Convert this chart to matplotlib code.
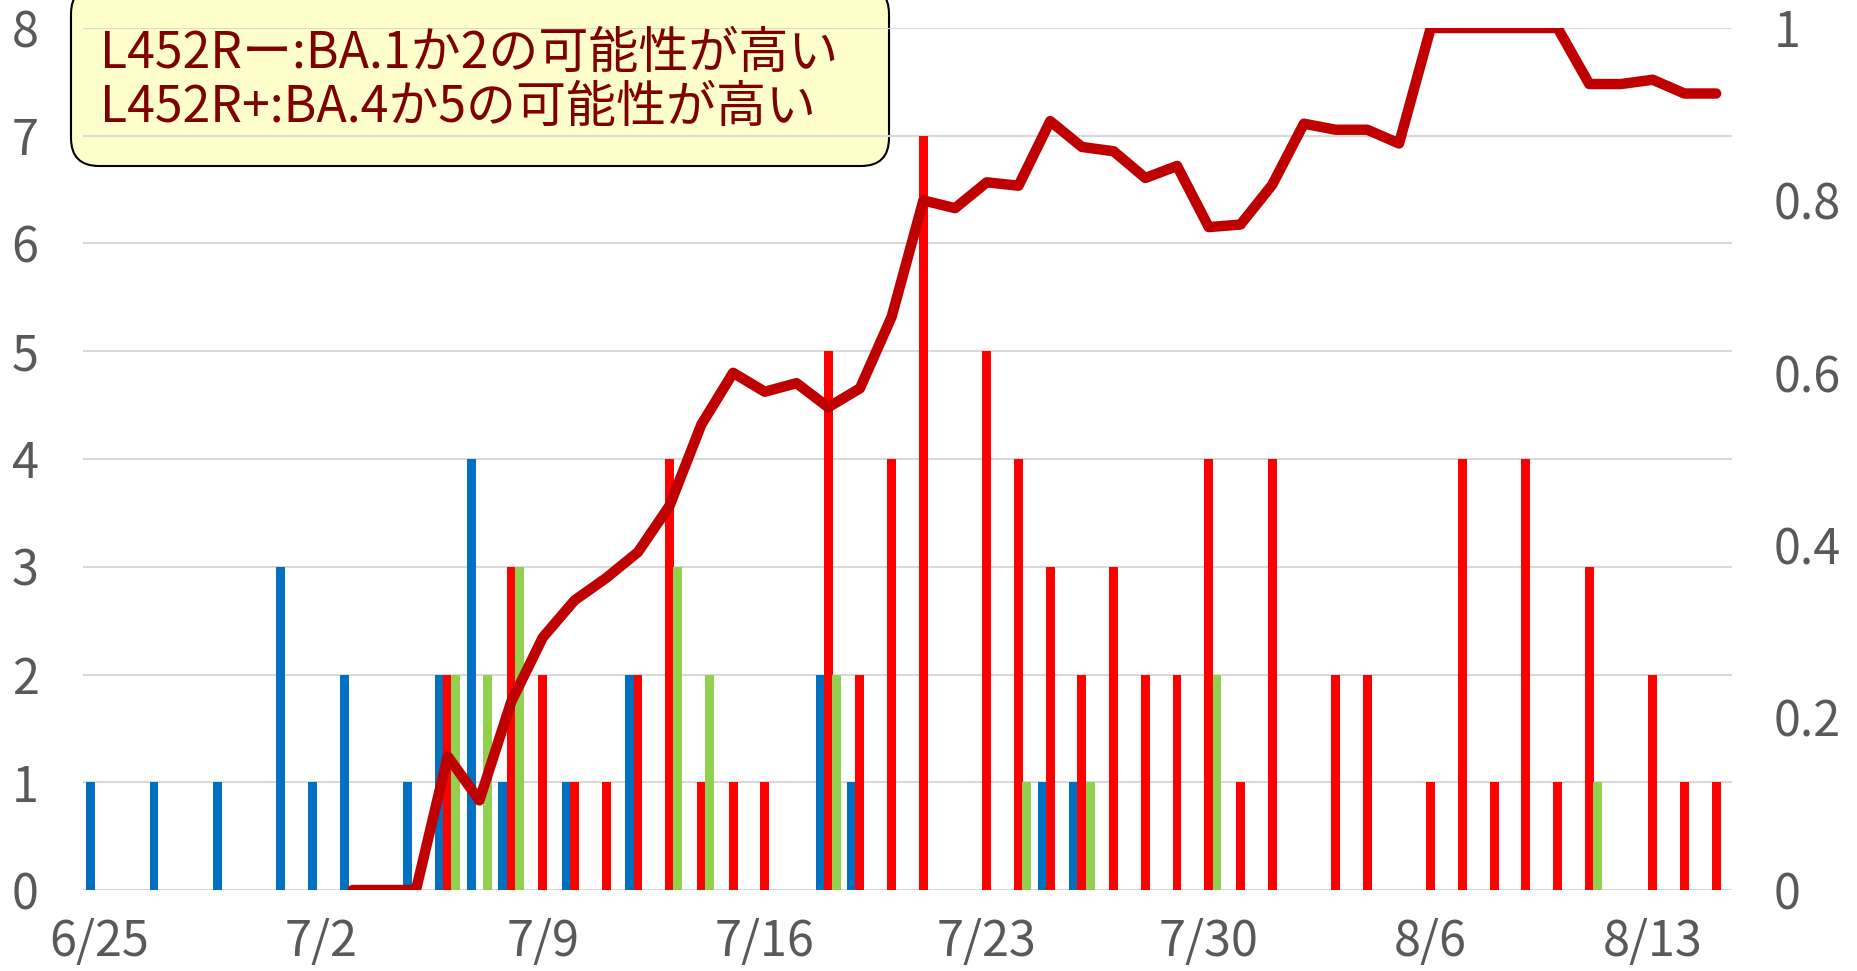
import numpy as np
import pandas as pd
import matplotlib
matplotlib.use("Agg")
import matplotlib.pyplot as plt
from matplotlib.patches import FancyBboxPatch
from matplotlib.transforms import IdentityTransform

plt.rcParams['font.family'] = ['Noto Sans CJK JP', 'DejaVu Sans']

# daily categories 6/25 - 8/15
dates = pd.date_range('2022-06-25', '2022-08-15')
tick_labels = ['6/25', '7/2', '7/9', '7/16', '7/23', '7/30', '8/6', '8/13']

# counts per day (blue: L452R-, red: L452R+, green: other)
blue = [1, 0, 1, 0, 1, 0, 3, 1, 2, 0, 1, 2, 4, 1, 0, 1, 0, 2, 0, 0,
        0, 0, 0, 2, 1, 0, 0, 0, 0, 0, 1, 1, 0, 0, 0, 0, 0, 0, 0, 0,
        0, 0, 0, 0, 0, 0, 0, 0, 0, 0, 0, 0]
red = [0, 0, 0, 0, 0, 0, 0, 0, 0, 0, 0, 2, 0, 3, 2, 1, 1, 2, 4, 1,
       1, 1, 0, 5, 2, 4, 7, 0, 5, 4, 3, 2, 3, 2, 2, 4, 1, 4, 0, 2,
       2, 0, 1, 4, 1, 4, 1, 3, 0, 2, 1, 1]
green = [0, 0, 0, 0, 0, 0, 0, 0, 0, 0, 0, 2, 2, 3, 0, 0, 0, 0, 3, 2,
         0, 0, 0, 2, 0, 0, 0, 0, 0, 1, 0, 1, 0, 0, 0, 2, 0, 0, 0, 0,
         0, 0, 0, 0, 0, 0, 0, 1, 0, 0, 0, 0]

# ratio of L452R+ (right axis), starts 7/3
ratio_start = 8
ratio = [0, 0, 0, 0.155, 0.104, 0.218, 0.293, 0.336, 0.362, 0.392,
         0.446, 0.54, 0.60, 0.578, 0.588, 0.56, 0.582, 0.665, 0.80, 0.791,
         0.821, 0.817, 0.892, 0.862, 0.857, 0.826, 0.840, 0.769, 0.772, 0.818,
         0.889, 0.882, 0.882, 0.866, 1, 1, 1, 1, 1, 0.935,
         0.935, 0.94, 0.924, 0.924]

label_lines = ['L452Rー:BA.1か2の可能性が高い', 'L452R+:BA.4か5の可能性が高い']

W, H = 1858, 971
fig = plt.figure(figsize=(W / 100, H / 100), dpi=100)
ax = fig.add_axes([83 / W, 1 - 890 / H, (1732 - 83) / W, (890 - 28) / H])
ax.set_facecolor('none')

x = np.arange(len(dates))
w = 0.28
off = 0.26
ax.bar(x - off, blue, w, color='#0070C0', zorder=2)
ax.bar(x, red, w, color='#FF0000', zorder=2)
ax.bar(x + off, green, w, color='#92D050', zorder=2)

ax.set_xlim(-0.5, len(dates) - 0.5)
ax.set_ylim(0, 8)
ax.set_yticks(range(0, 9))
ax.set_xticks(np.arange(0, len(dates), 7))
ax.set_xticklabels(tick_labels)
ax.grid(axis='y', color='#D9D9D9', linewidth=1.5, zorder=0)
ax.set_axisbelow(True)
for s in ax.spines.values():
    s.set_visible(False)
ax.tick_params(axis='y', length=0, pad=32, labelsize=35, labelcolor='#595959')
ax.tick_params(axis='x', length=0, pad=20, labelsize=35, labelcolor='#595959')

ax2 = ax.twinx()
ax2.plot(x[ratio_start:], ratio, color='#C00000', linewidth=7.5,
         solid_capstyle='round', solid_joinstyle='round', zorder=3)
ax2.set_ylim(0, 1)
ax2.set_yticks([0, 0.2, 0.4, 0.6, 0.8, 1])
ax2.set_yticklabels(['0', '0.2', '0.4', '0.6', '0.8', '1'])
for s in ax2.spines.values():
    s.set_visible(False)
ax2.tick_params(axis='y', length=0, pad=30, labelsize=35, labelcolor='#595959')

# note box (behind gridlines, like the original)
box = FancyBboxPatch((71, H - 166), 889 - 71, 180,
                     boxstyle='round,pad=0,rounding_size=28',
                     transform=IdentityTransform(), facecolor='#FFFFCC',
                     edgecolor='black', linewidth=1.5, zorder=-1)
fig.patches.append(box)
fig.text(100 / W, 1 - 54 / H, label_lines[0], fontsize=36, color='#800000',
         va='center', ha='left', zorder=5)
fig.text(100 / W, 1 - 108 / H, label_lines[1], fontsize=36, color='#800000',
         va='center', ha='left', zorder=5)

fig.savefig('out.png', dpi=100)
